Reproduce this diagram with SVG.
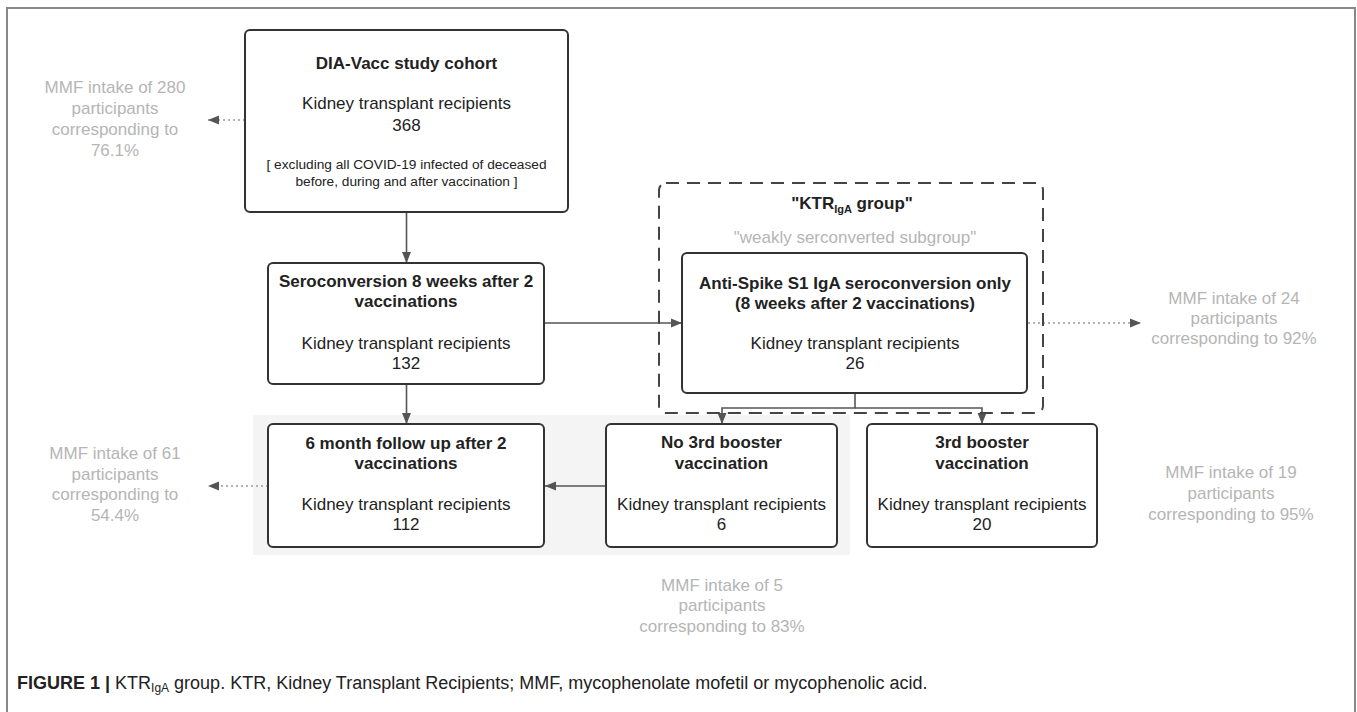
<svg xmlns="http://www.w3.org/2000/svg" width="1357" height="712" viewBox="0 0 1357 712">
<defs>
<marker id="ah" markerUnits="userSpaceOnUse" markerWidth="13" markerHeight="11" refX="11" refY="5.5" orient="auto">
<path d="M0,1 L11,5.5 L0,10 Z" fill="#555"/>
</marker>
<style>
.box{fill:#fff;stroke:#333;stroke-width:2}
.dash{fill:none;stroke:#444;stroke-width:2;stroke-dasharray:13 8}
.t{font-family:"Liberation Sans",Arial,sans-serif;font-size:17px;fill:#222;text-anchor:middle}
.b{font-weight:bold}
.s{font-size:13.7px}
.g{fill:#b5b5b5}
.ln{fill:none;stroke:#555;stroke-width:1.6}
.dot{fill:none;stroke:#999;stroke-width:1.6;stroke-dasharray:2 3}
.cap{font-family:"Liberation Sans",Arial,sans-serif;font-size:18px;fill:#222}
</style>
</defs>
<rect width="1357" height="712" fill="#fff"/>
<path d="M7,712 V8 H1355 V712" fill="none" stroke="#888" stroke-width="2"/>
<rect x="253" y="415" width="597" height="140" fill="#f4f4f4"/>

<g id="connectors">
<line class="ln" x1="406.5" y1="212" x2="406.5" y2="263" marker-end="url(#ah)"/>
<line class="ln" x1="544" y1="323" x2="682" y2="323" marker-end="url(#ah)"/>
<line class="ln" x1="406.5" y1="384" x2="406.5" y2="424" marker-end="url(#ah)"/>
<path class="ln" d="M855,393 V408 H722 V424" marker-end="url(#ah)"/>
<path class="ln" d="M855,408 H982 V424" marker-end="url(#ah)"/>
<line class="ln" x1="606" y1="486" x2="545" y2="486" marker-end="url(#ah)"/>
<line class="dot" x1="245" y1="120" x2="208" y2="120" marker-end="url(#ah)"/>
<line class="dot" x1="268" y1="486" x2="208" y2="486" marker-end="url(#ah)"/>
<line class="dot" x1="1028" y1="323" x2="1141" y2="323" marker-end="url(#ah)"/>
</g>

<g id="cohort">
<rect class="box" x="245" y="30" width="323" height="182" rx="5"/>
<text class="t b" x="406.5" y="69">DIA-Vacc study cohort</text>
<text class="t" x="406.5" y="109">Kidney transplant recipients</text>
<text class="t" x="406.5" y="131">368</text>
<text class="t s" x="406.5" y="169">[ excluding all COVID-19 infected of deceased</text>
<text class="t s" x="406.5" y="186">before, during and after vaccination ]</text>
</g>

<g id="seroconversion">
<rect class="box" x="268" y="263" width="276" height="121" rx="5"/>
<text class="t b" x="406" y="287">Seroconversion 8 weeks after 2</text>
<text class="t b" x="406" y="307">vaccinations</text>
<text class="t" x="406" y="349">Kidney transplant recipients</text>
<text class="t" x="406" y="369">132</text>
</g>

<g id="ktr-iga-group">
<rect class="dash" x="659" y="183" width="384" height="230" rx="7"/>
<text class="t b" x="852" y="209">"KTR<tspan font-size="11" dy="4">IgA</tspan><tspan dy="-4"> group"</tspan></text>
<text class="t g" x="855" y="243">"weakly serconverted subgroup"</text>
</g>

<g id="iga-only">
<rect class="box" x="682" y="253" width="345" height="140" rx="5"/>
<text class="t b" x="855" y="289">Anti-Spike S1 IgA seroconversion only</text>
<text class="t b" x="855" y="309">(8 weeks after 2 vaccinations)</text>
<text class="t" x="855" y="349">Kidney transplant recipients</text>
<text class="t" x="855" y="369">26</text>
</g>

<g id="followup">
<rect class="box" x="268" y="424" width="276" height="123" rx="5"/>
<text class="t b" x="406" y="449">6 month follow up after 2</text>
<text class="t b" x="406" y="469">vaccinations</text>
<text class="t" x="406" y="510">Kidney transplant recipients</text>
<text class="t" x="406" y="530">112</text>
</g>

<g id="no-booster">
<rect class="box" x="606" y="424" width="231" height="123" rx="5"/>
<text class="t b" x="721.5" y="448">No 3rd booster</text>
<text class="t b" x="721.5" y="469">vaccination</text>
<text class="t" x="721.5" y="510">Kidney transplant recipients</text>
<text class="t" x="721.5" y="530">6</text>
</g>

<g id="booster">
<rect class="box" x="867" y="424" width="230" height="123" rx="5"/>
<text class="t b" x="982" y="448">3rd booster</text>
<text class="t b" x="982" y="469">vaccination</text>
<text class="t" x="982" y="510">Kidney transplant recipients</text>
<text class="t" x="982" y="530">20</text>
</g>

<g id="mmf-280">
<text class="t g" x="115" y="93">MMF intake of 280</text>
<text class="t g" x="115" y="114">participants</text>
<text class="t g" x="115" y="135">corresponding to</text>
<text class="t g" x="115" y="156">76.1%</text>
</g>
<g id="mmf-61">
<text class="t g" x="115" y="459">MMF intake of 61</text>
<text class="t g" x="115" y="480">participants</text>
<text class="t g" x="115" y="500">corresponding to</text>
<text class="t g" x="115" y="521">54.4%</text>
</g>
<g id="mmf-24">
<text class="t g" x="1234" y="304">MMF intake of 24</text>
<text class="t g" x="1234" y="324">participants</text>
<text class="t g" x="1234" y="344">corresponding to 92%</text>
</g>
<g id="mmf-19">
<text class="t g" x="1231" y="478">MMF intake of 19</text>
<text class="t g" x="1231" y="499">participants</text>
<text class="t g" x="1231" y="520">corresponding to 95%</text>
</g>
<g id="mmf-5">
<text class="t g" x="722" y="591">MMF intake of 5</text>
<text class="t g" x="722" y="611">participants</text>
<text class="t g" x="722" y="632">corresponding to 83%</text>
</g>

<text class="cap" x="17" y="689"><tspan font-weight="bold">FIGURE 1 |</tspan> KTR<tspan font-size="12" dy="3">IgA</tspan><tspan dy="-3"> group. KTR, Kidney Transplant Recipients; MMF, mycophenolate mofetil or mycophenolic acid.</tspan></text>
</svg>
